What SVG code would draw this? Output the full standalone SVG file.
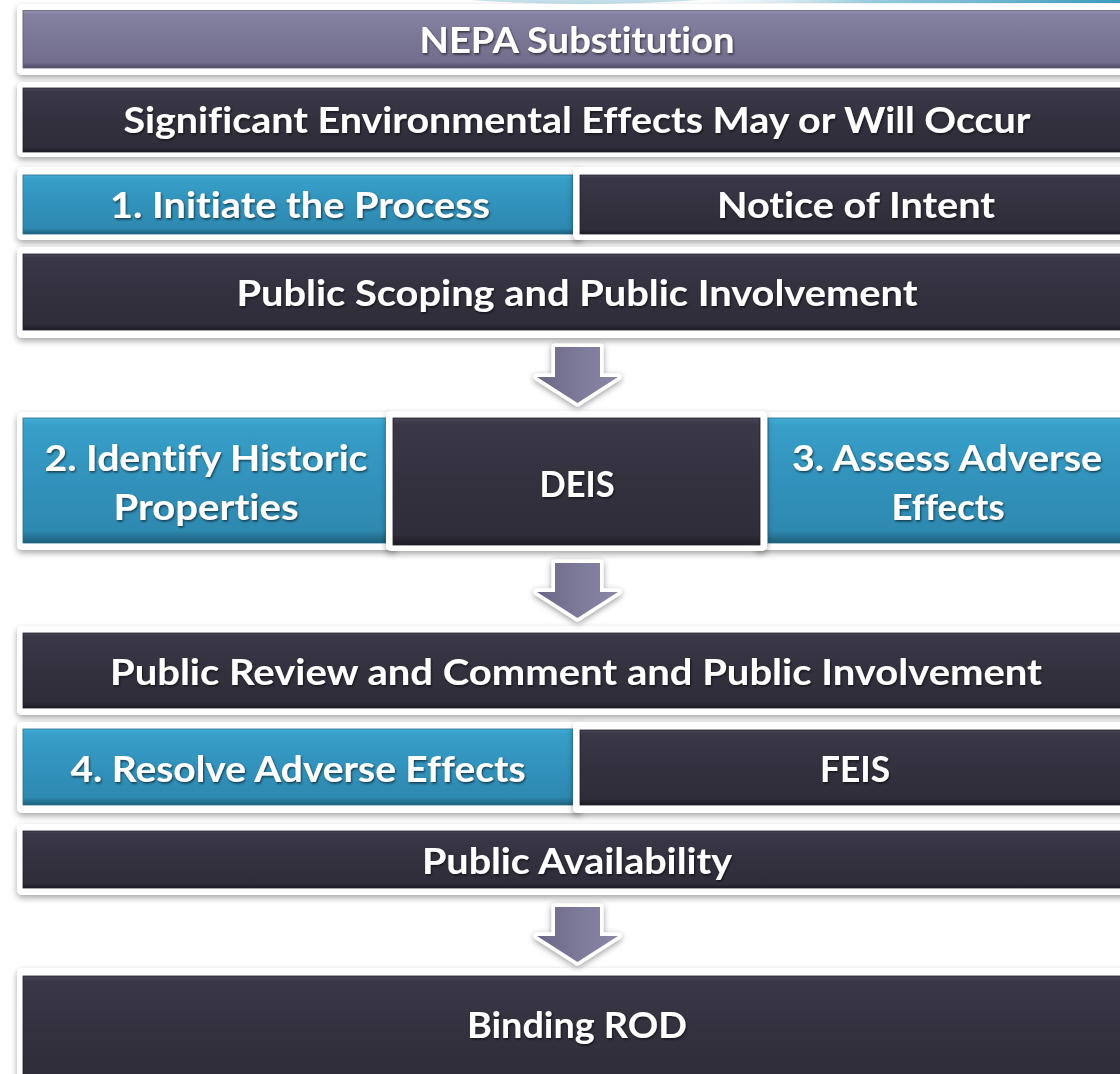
<svg xmlns="http://www.w3.org/2000/svg" width="1120" height="1074" viewBox="0 0 1120 1074">
<defs>
<linearGradient id="gDark" x1="0" y1="0" x2="0" y2="1">
<stop offset="0" stop-color="#4a4759"/><stop offset="0.05" stop-color="#3a3747"/><stop offset="0.5" stop-color="#34313f"/><stop offset="0.92" stop-color="#302d3a"/><stop offset="1" stop-color="#1d1b24"/>
</linearGradient>
<linearGradient id="gPurple" x1="0" y1="0" x2="0" y2="1">
<stop offset="0" stop-color="#9793b2"/><stop offset="0.06" stop-color="#8581a1"/><stop offset="0.5" stop-color="#7a7695"/><stop offset="0.9" stop-color="#726e8c"/><stop offset="1" stop-color="#4f4b66"/>
</linearGradient>
<linearGradient id="gBlue" x1="0" y1="0" x2="0" y2="1">
<stop offset="0" stop-color="#45acd4"/><stop offset="0.06" stop-color="#379fc9"/><stop offset="0.5" stop-color="#3292bb"/><stop offset="0.9" stop-color="#2e89b0"/><stop offset="1" stop-color="#1d5e79"/>
</linearGradient>
<linearGradient id="gArrow" x1="0" y1="0" x2="1" y2="0">
<stop offset="0" stop-color="#6a6686"/><stop offset="0.5" stop-color="#7d7999"/><stop offset="1" stop-color="#8a86a5"/>
</linearGradient>
<linearGradient id="gTop" x1="0" y1="0" x2="1" y2="0">
<stop offset="0" stop-color="#bfe0ec" stop-opacity="0"/><stop offset="0.4" stop-color="#7fc2d8" stop-opacity="0.8"/><stop offset="1" stop-color="#3a9dbf"/>
</linearGradient>
<filter id="sh" x="-5%" y="-20%" width="110%" height="150%">
<feDropShadow dx="0" dy="3" stdDeviation="3" flood-color="#000" flood-opacity="0.35"/>
</filter>
<filter id="ash" x="-30%" y="-30%" width="160%" height="160%">
<feDropShadow dx="0" dy="2" stdDeviation="3" flood-color="#000" flood-opacity="0.4"/>
</filter>
<filter id="tsh" x="-5%" y="-30%" width="110%" height="160%">
<feDropShadow dx="1" dy="1.5" stdDeviation="1" flood-color="#000" flood-opacity="0.6"/>
</filter>
</defs>
<style>
.frame{fill:#ffffff;filter:url(#sh);}
.dark{fill:url(#gDark);stroke:#22202a;stroke-width:0.8;}
.purple{fill:url(#gPurple);stroke:#5a5672;stroke-width:0.8;}
.blue{fill:url(#gBlue);stroke:#246e8c;stroke-width:0.8;}
.lbl{font-family:"Lato","Open Sans","Liberation Sans",sans-serif;font-weight:bold;font-size:36px;fill:#ffffff;text-anchor:middle;filter:url(#tsh);font-variant-ligatures:none;font-feature-settings:"liga" 0,"clig" 0;}
.arrow{fill:url(#gArrow);stroke:#ffffff;stroke-width:7;stroke-linejoin:round;paint-order:stroke;filter:url(#ash);}
</style>
<rect x="0" y="0" width="1120" height="1074" fill="#ffffff"/>
<path d="M470,0 Q580,8 700,0 Z" fill="#a9d3e3" opacity="0.7"/>
<rect x="700" y="0" width="420" height="3" fill="url(#gTop)"/>

<g id="node-nepa">
<rect class="frame" x="17" y="4" width="1115" height="71" rx="5"/>
<rect class="purple" x="23" y="10.5" width="1105" height="57.5"/>
<text class="lbl" x="577" y="53" textLength="315" lengthAdjust="spacingAndGlyphs">NEPA Substitution</text>
</g>
<g id="node-significant">
<rect class="frame" x="17" y="82" width="1115" height="75" rx="5"/>
<rect class="dark" x="23" y="88" width="1105" height="64"/>
<text class="lbl" x="577" y="133" textLength="907" lengthAdjust="spacingAndGlyphs">Significant Environmental Effects May or Will Occur</text>
</g>
<g id="node-initiate">
<rect class="frame" x="17" y="167" width="565" height="73" rx="5"/>
<rect class="blue" x="23" y="175" width="550" height="59"/>
<text class="lbl" x="300" y="218" textLength="380" lengthAdjust="spacingAndGlyphs">1. Initiate the Process</text>
</g>
<g id="node-noi">
<rect class="frame" x="573" y="167" width="559" height="73" rx="5"/>
<rect class="dark" x="580" y="175" width="548" height="59"/>
<text class="lbl" x="856" y="218" textLength="278" lengthAdjust="spacingAndGlyphs">Notice of Intent</text>
</g>
<g id="node-scoping">
<rect class="frame" x="17" y="247" width="1115" height="91" rx="5"/>
<rect class="dark" x="23" y="254" width="1105" height="76"/>
<text class="lbl" x="577" y="306" textLength="681" lengthAdjust="spacingAndGlyphs">Public Scoping and Public Involvement</text>
</g>
<g id="node-identify">
<rect class="frame" x="17" y="412" width="380" height="138" rx="5"/>
<rect class="blue" x="23" y="418" width="366" height="125"/>
<text class="lbl" x="206" y="471" textLength="323" lengthAdjust="spacingAndGlyphs">2. Identify Historic</text>
<text class="lbl" x="206" y="520" textLength="185" lengthAdjust="spacingAndGlyphs">Properties</text>
</g>
<g id="node-assess">
<rect class="frame" x="755" y="412" width="377" height="138" rx="5"/>
<rect class="blue" x="768" y="418" width="360" height="125"/>
<text class="lbl" x="947" y="471" textLength="310" lengthAdjust="spacingAndGlyphs">3. Assess Adverse</text>
<text class="lbl" x="948" y="520" textLength="113" lengthAdjust="spacingAndGlyphs">Effects</text>
</g>
<g id="node-deis">
<rect class="frame" x="386" y="411" width="381" height="140" rx="5"/>
<rect class="dark" x="393" y="418" width="367" height="127"/>
<text class="lbl" x="577" y="497" textLength="75" lengthAdjust="spacingAndGlyphs">DEIS</text>
</g>
<g id="node-review">
<rect class="frame" x="17" y="626" width="1115" height="89" rx="5"/>
<rect class="dark" x="23" y="633" width="1105" height="75"/>
<text class="lbl" x="576" y="685" textLength="932" lengthAdjust="spacingAndGlyphs">Public Review and Comment and Public Involvement</text>
</g>
<g id="node-resolve">
<rect class="frame" x="17" y="722" width="565" height="91" rx="5"/>
<rect class="blue" x="23" y="729" width="550" height="76"/>
<text class="lbl" x="298" y="782" textLength="455" lengthAdjust="spacingAndGlyphs">4. Resolve Adverse Effects</text>
</g>
<g id="node-feis">
<rect class="frame" x="573" y="722" width="559" height="91" rx="5"/>
<rect class="dark" x="580" y="730" width="548" height="75"/>
<text class="lbl" x="855" y="782" textLength="70" lengthAdjust="spacingAndGlyphs">FEIS</text>
</g>
<g id="node-availability">
<rect class="frame" x="17" y="824" width="1115" height="71" rx="5"/>
<rect class="dark" x="23" y="831" width="1105" height="57"/>
<text class="lbl" x="577" y="874" textLength="310" lengthAdjust="spacingAndGlyphs">Public Availability</text>
</g>
<g id="node-rod">
<rect class="frame" x="17" y="968" width="1115" height="120" rx="5"/>
<rect class="dark" x="23" y="976" width="1105" height="110"/>
<text class="lbl" x="577" y="1038" textLength="220" lengthAdjust="spacingAndGlyphs">Binding ROD</text>
</g>

<g id="connectors">
<path class="arrow" d="M555,347 H600 V377 H618 L577.5,403 L537,377 H555 Z"/>
<path class="arrow" d="M555,563 H600 V592 H618 L577.5,618 L537,592 H555 Z"/>
<path class="arrow" d="M555,907 H600 V936 H618 L577.5,962 L537,936 H555 Z"/>
</g>
</svg>
